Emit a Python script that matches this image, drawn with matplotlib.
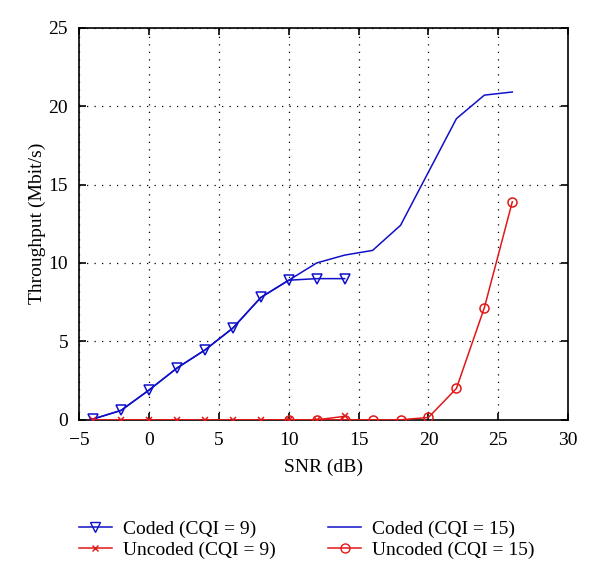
import matplotlib
matplotlib.use("Agg")
import matplotlib.pyplot as plt
from matplotlib.lines import Line2D

plt.rcParams['font.family'] = ['Liberation Serif', 'DejaVu Serif']

snr_c9 = [-4, -2, 0, 2, 4, 6, 8, 10, 12, 14]
coded_c9 = [0.05, 0.6, 1.9, 3.3, 4.45, 5.85, 7.8, 8.9, 9.0, 9.0]

snr_c15 = [-4, -2, 0, 2, 4, 6, 8, 10, 12, 14, 16, 18, 20, 22, 24, 26]
coded_c15 = [0.05, 0.6, 1.9, 3.3, 4.45, 5.85, 7.8, 8.9, 10.0, 10.5, 10.8, 12.4, 15.8, 19.2, 20.7, 20.9]

snr_u9 = [-4, -2, 0, 2, 4, 6, 8, 10, 12, 14]
uncoded_c9 = [0, 0, 0, 0, 0, 0, 0, 0, 0, 0.22]

snr_u15 = [10, 12, 14, 16, 18, 20, 22, 24, 26]
uncoded_c15 = [0, 0, 0, 0, 0, 0.15, 2.0, 7.15, 13.9]

xticks = [-5, 0, 5, 10, 15, 20, 25, 30]
yticks = [0, 5, 10, 15, 20, 25]

blue = '#1010c8'
red = '#e01818'

fig = plt.figure(figsize=(6.0, 5.65), dpi=100)
ax = fig.add_axes([0.132, 0.257, 0.815, 0.694])

ax.plot(snr_c15, coded_c15, color=blue, lw=1.1, zorder=3)
ax.plot(snr_c9, coded_c9, color=blue, lw=1.1, marker='v', ms=7, mfc='none', mec=blue, mew=1.1, zorder=4)
ax.plot(snr_u9, uncoded_c9, color=red, lw=1.1, marker='x', ms=4.5, mec=red, mew=1.1, zorder=4)
ax.plot(snr_u15, uncoded_c15, color=red, lw=1.1, marker='o', ms=6.5, mfc='none', mec=red, mew=1.1, zorder=4)

ax.set_xlim(-5, 30)
ax.set_ylim(0, 25)
ax.set_xticks(xticks)
ax.set_yticks(yticks)
ax.set_xticklabels(['\u22125' if t < 0 else str(t) for t in xticks])
ax.grid(True, color='black', linestyle=(0, (1, 5)), linewidth=0.9)
ax.tick_params(direction='in', top=True, right=True, labelsize=14, length=5, width=1.2)
ax.tick_params(axis='x', pad=9)
ax.tick_params(axis='y', pad=8)
for s in ax.spines.values():
    s.set_linewidth(1.2)
ax.set_xlabel('SNR (dB)', fontsize=14, labelpad=7)
ax.set_ylabel('Throughput (Mbit/s)', fontsize=14, labelpad=2)

handles = [
    Line2D([], [], color=blue, lw=1.1, marker='v', ms=7, mfc='none', mec=blue),
    Line2D([], [], color=red, lw=1.1, marker='x', ms=4.5, mec=red),
    Line2D([], [], color=blue, lw=1.1),
    Line2D([], [], color=red, lw=1.1, marker='o', ms=6.5, mfc='none', mec=red),
]
labels = ['Coded (CQI = 9)', 'Uncoded (CQI = 9)', 'Coded (CQI = 15)', 'Uncoded (CQI = 15)']
fig.legend(handles, labels, ncol=2, loc='upper left', bbox_to_anchor=(0.102, 0.11),
           frameon=False, fontsize=14, handlelength=1.7, columnspacing=2.7,
           labelspacing=0.15, handletextpad=0.57)

fig.savefig('out.png', dpi=100)
